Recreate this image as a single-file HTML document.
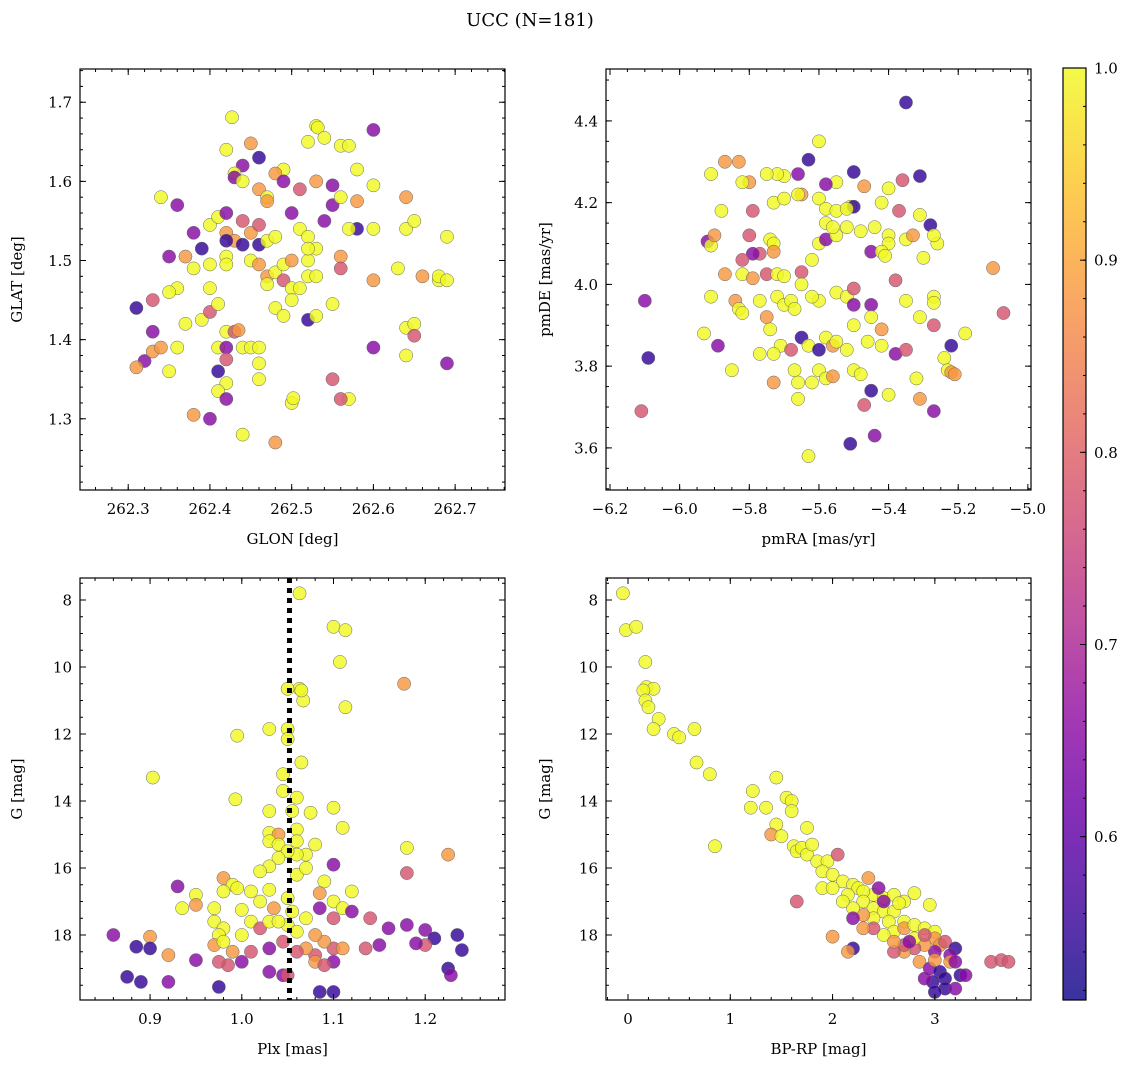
<!DOCTYPE html>
<html><head><meta charset="utf-8"><style>
body{margin:0;background:#fff;}
svg{display:block;font-family:"DejaVu Serif","Liberation Serif",serif;}
</style></head><body>
<svg id="fig" width="1136" height="1068" viewBox="0 0 1136 1068">
<text x="530" y="26" font-size="18" text-anchor="middle">UCC (N=181)</text>
</svg>
<script>
const Y=1.0,O=0.88,K=0.78,P=0.65,B=0.55;
const skyPoints=[[262.427,1.681,Y],[262.53,1.67,Y],[262.532,1.668,Y],[262.6,1.665,P],[262.54,1.655,Y],[262.52,1.65,Y],[262.56,1.645,Y],[262.57,1.645,Y],[262.42,1.64,Y],[262.45,1.648,O],[262.46,1.63,B],[262.44,1.62,P],[262.43,1.61,Y],[262.43,1.605,P],[262.49,1.615,Y],[262.48,1.61,O],[262.49,1.60,P],[262.44,1.60,Y],[262.46,1.59,O],[262.47,1.58,Y],[262.47,1.575,O],[262.53,1.60,O],[262.51,1.59,K],[262.55,1.595,P],[262.58,1.615,Y],[262.6,1.595,Y],[262.58,1.575,O],[262.34,1.58,Y],[262.36,1.57,P],[262.38,1.535,P],[262.39,1.515,B],[262.4,1.545,Y],[262.41,1.555,Y],[262.42,1.56,P],[262.44,1.55,K],[262.42,1.535,O],[262.43,1.525,O],[262.42,1.525,B],[262.44,1.52,B],[262.45,1.535,O],[262.46,1.545,K],[262.46,1.52,B],[262.47,1.525,Y],[262.48,1.53,Y],[262.5,1.56,P],[262.51,1.54,Y],[262.52,1.53,Y],[262.54,1.55,P],[262.55,1.57,P],[262.56,1.58,Y],[262.58,1.54,B],[262.57,1.54,Y],[262.6,1.54,Y],[262.64,1.58,O],[262.64,1.54,Y],[262.65,1.55,Y],[262.63,1.49,Y],[262.66,1.48,O],[262.68,1.475,Y],[262.68,1.48,Y],[262.69,1.53,Y],[262.69,1.475,Y],[262.42,1.505,Y],[262.42,1.495,Y],[262.40,1.495,Y],[262.38,1.49,Y],[262.35,1.505,P],[262.37,1.505,O],[262.45,1.50,Y],[262.46,1.495,O],[262.47,1.48,O],[262.47,1.47,Y],[262.48,1.485,Y],[262.49,1.475,K],[262.49,1.495,Y],[262.5,1.50,O],[262.5,1.465,Y],[262.51,1.465,Y],[262.52,1.48,Y],[262.52,1.5,Y],[262.53,1.515,Y],[262.53,1.48,Y],[262.52,1.515,Y],[262.56,1.505,O],[262.56,1.49,K],[262.36,1.465,Y],[262.35,1.46,Y],[262.33,1.45,K],[262.31,1.44,B],[262.33,1.41,P],[262.32,1.373,P],[262.33,1.385,O],[262.34,1.39,O],[262.35,1.36,Y],[262.31,1.365,O],[262.36,1.39,Y],[262.37,1.42,Y],[262.39,1.425,Y],[262.40,1.435,K],[262.4,1.465,Y],[262.41,1.445,Y],[262.42,1.41,Y],[262.43,1.41,K],[262.41,1.39,Y],[262.42,1.39,P],[262.42,1.375,K],[262.44,1.39,Y],[262.45,1.39,Y],[262.435,1.412,O],[262.46,1.39,Y],[262.46,1.37,Y],[262.46,1.35,Y],[262.41,1.36,B],[262.42,1.345,Y],[262.41,1.335,Y],[262.42,1.325,P],[262.38,1.305,O],[262.40,1.30,P],[262.44,1.28,Y],[262.48,1.27,O],[262.48,1.44,Y],[262.49,1.43,Y],[262.5,1.45,Y],[262.52,1.425,B],[262.53,1.43,Y],[262.55,1.445,Y],[262.55,1.35,K],[262.57,1.325,Y],[262.5,1.32,Y],[262.502,1.326,Y],[262.56,1.325,K],[262.6,1.39,P],[262.64,1.38,Y],[262.64,1.415,Y],[262.65,1.42,Y],[262.65,1.405,K],[262.69,1.37,P],[262.6,1.475,O]];
const pmPoints=[[-5.35,4.445,B],[-5.63,4.305,B],[-5.6,4.35,Y],[-5.87,4.30,O],[-5.83,4.30,O],[-5.66,4.27,P],[-5.70,4.265,Y],[-5.72,4.27,Y],[-5.75,4.27,Y],[-5.91,4.27,Y],[-5.5,4.275,B],[-5.31,4.265,B],[-5.36,4.255,K],[-5.80,4.25,O],[-5.82,4.25,Y],[-5.55,4.25,Y],[-5.58,4.245,P],[-5.47,4.24,O],[-5.4,4.235,Y],[-5.88,4.18,Y],[-5.79,4.18,K],[-5.73,4.2,Y],[-5.7,4.21,Y],[-5.65,4.22,O],[-5.66,4.22,Y],[-5.6,4.21,Y],[-5.58,4.185,Y],[-5.51,4.19,Y],[-5.5,4.19,B],[-5.42,4.2,Y],[-5.37,4.18,K],[-5.31,4.17,Y],[-5.28,4.145,B],[-5.55,4.18,Y],[-5.52,4.185,Y],[-5.92,4.105,P],[-5.91,4.095,Y],[-5.9,4.12,O],[-5.8,4.12,K],[-5.74,4.11,Y],[-5.73,4.1,Y],[-5.73,4.08,O],[-5.77,4.075,K],[-5.79,4.075,P],[-5.82,4.06,K],[-5.87,4.025,O],[-5.82,4.025,Y],[-5.79,4.015,O],[-5.75,4.025,K],[-5.72,4.025,Y],[-5.7,4.02,Y],[-5.65,4.03,K],[-5.65,4.0,Y],[-5.62,4.06,Y],[-5.6,4.1,Y],[-5.58,4.11,P],[-5.55,4.12,Y],[-5.58,4.15,Y],[-5.56,4.14,Y],[-5.52,4.14,Y],[-5.48,4.13,Y],[-5.44,4.14,Y],[-5.4,4.12,Y],[-5.4,4.1,Y],[-5.45,4.08,P],[-5.42,4.08,Y],[-5.41,4.07,Y],[-5.35,4.11,Y],[-5.33,4.12,O],[-5.26,4.1,Y],[-5.27,4.12,Y],[-5.3,4.065,Y],[-5.91,3.97,Y],[-5.84,3.96,O],[-5.83,3.94,Y],[-5.77,3.96,Y],[-5.72,3.97,Y],[-5.7,3.95,Y],[-5.68,3.96,Y],[-5.67,3.94,Y],[-5.6,3.96,Y],[-5.55,3.98,Y],[-5.52,3.97,Y],[-5.5,3.95,P],[-5.5,3.99,K],[-5.45,3.95,P],[-5.45,3.92,Y],[-5.42,3.89,O],[-5.35,3.96,Y],[-5.38,4.01,K],[-5.27,3.97,Y],[-5.27,3.955,Y],[-5.31,3.92,Y],[-5.27,3.9,K],[-5.22,3.85,B],[-5.18,3.88,Y],[-5.1,4.04,O],[-5.07,3.93,K],[-5.93,3.88,Y],[-5.89,3.85,P],[-5.82,3.93,Y],[-5.75,3.92,O],[-5.74,3.89,Y],[-5.71,3.85,Y],[-5.73,3.83,Y],[-5.68,3.84,K],[-5.65,3.87,B],[-5.63,3.85,Y],[-5.6,3.84,B],[-5.58,3.87,Y],[-5.56,3.85,O],[-5.55,3.86,Y],[-5.52,3.84,Y],[-5.5,3.9,Y],[-5.46,3.86,Y],[-5.42,3.85,Y],[-5.38,3.83,P],[-5.32,3.77,Y],[-5.31,3.72,O],[-5.24,3.82,Y],[-5.23,3.79,Y],[-5.22,3.785,O],[-5.21,3.78,O],[-5.27,3.69,P],[-5.35,3.84,K],[-5.85,3.79,Y],[-5.77,3.83,Y],[-5.73,3.76,O],[-5.67,3.79,Y],[-5.66,3.76,Y],[-5.62,3.76,Y],[-5.6,3.79,Y],[-5.58,3.77,Y],[-5.56,3.775,O],[-5.5,3.79,Y],[-5.48,3.78,Y],[-5.47,3.705,K],[-5.45,3.74,B],[-5.4,3.73,Y],[-5.44,3.63,P],[-5.51,3.61,B],[-5.66,3.72,Y],[-5.63,3.58,Y],[-5.62,3.97,Y],[-6.1,3.96,P],[-6.09,3.82,B],[-6.11,3.69,K]];
const plxPoints=[[1.063,7.8,Y],[1.1,8.8,Y],[1.113,8.9,Y],[1.107,9.85,Y],[1.063,10.65,Y],[1.05,10.65,Y],[1.067,11.0,Y],[1.065,10.7,Y],[1.177,10.5,O],[1.113,11.2,Y],[1.03,11.85,Y],[1.05,11.85,Y],[0.995,12.05,Y],[1.05,12.15,Y],[0.903,13.3,Y],[1.045,13.2,Y],[1.045,13.7,Y],[1.06,13.9,Y],[1.065,12.85,Y],[0.993,13.95,Y],[1.1,14.2,Y],[1.11,14.8,Y],[1.03,14.3,Y],[1.055,14.3,Y],[1.075,14.35,Y],[1.03,14.95,Y],[1.06,14.85,Y],[1.04,15.0,O],[1.03,15.2,Y],[1.04,15.3,Y],[1.06,15.2,Y],[1.08,15.3,Y],[1.07,15.6,Y],[1.06,15.6,Y],[1.05,15.5,Y],[1.04,15.7,Y],[1.18,15.4,Y],[1.225,15.6,O],[1.18,16.15,K],[1.1,15.9,P],[1.03,15.95,Y],[1.02,16.1,Y],[1.06,16.2,Y],[1.07,16.0,Y],[1.09,16.4,Y],[1.085,16.75,O],[1.1,17.0,Y],[1.12,16.7,Y],[1.11,17.2,Y],[0.98,16.3,O],[0.99,16.5,Y],[0.995,16.6,Y],[0.98,16.7,Y],[0.95,16.8,Y],[0.95,17.1,O],[0.935,17.2,Y],[0.93,16.55,P],[1.01,16.7,Y],[1.03,16.65,Y],[1.02,17.0,Y],[1.035,17.2,O],[1.05,16.9,Y],[1.055,17.3,Y],[1.0,17.25,Y],[0.97,17.2,Y],[0.97,17.6,Y],[0.98,17.8,Y],[0.975,18.0,Y],[0.97,18.3,O],[0.98,18.2,Y],[1.01,17.6,Y],[1.02,17.8,K],[1.03,17.6,Y],[1.05,17.7,Y],[1.07,17.5,Y],[1.085,17.2,P],[1.1,17.5,K],[1.12,17.3,P],[1.14,17.5,K],[1.16,17.8,P],[1.18,17.7,P],[1.2,17.85,P],[1.21,18.1,B],[1.2,18.3,K],[1.235,18.0,B],[1.24,18.45,B],[1.225,19.0,B],[1.228,19.2,P],[1.19,18.25,P],[1.15,18.3,P],[1.135,18.4,K],[1.1,18.4,K],[1.08,18.6,K],[1.07,18.4,O],[1.06,18.5,K],[1.045,18.2,K],[1.03,18.4,P],[1.01,18.5,K],[1.0,18.8,P],[0.985,18.9,K],[0.975,18.8,K],[0.95,18.75,P],[0.92,18.6,O],[0.9,18.05,O],[0.86,18.0,P],[0.885,18.35,B],[0.9,18.4,B],[0.875,19.25,B],[0.89,19.4,B],[0.92,19.4,P],[0.975,19.55,B],[1.03,19.1,P],[1.045,19.2,P],[1.05,19.2,K],[1.1,18.8,P],[1.1,19.7,B],[1.085,19.7,B],[1.08,18.8,O],[1.09,18.9,K],[1.11,18.4,O],[1.09,18.2,O],[1.08,18.0,O],[1.06,17.9,Y],[1.04,17.6,Y],[1.0,18.0,Y],[0.99,18.5,O]];
const cmdPoints=[[-0.05,7.8,Y],[-0.02,8.9,Y],[0.08,8.8,Y],[0.17,9.85,Y],[0.18,10.6,Y],[0.25,10.65,Y],[0.15,10.7,Y],[0.17,11.0,Y],[0.2,11.2,Y],[0.3,11.55,Y],[0.25,11.85,Y],[0.45,12.0,Y],[0.5,12.1,Y],[0.65,11.85,Y],[0.67,12.85,Y],[0.8,13.2,Y],[0.85,15.35,Y],[1.45,13.3,Y],[1.22,13.7,Y],[1.55,13.9,Y],[1.6,14.0,Y],[1.2,14.2,Y],[1.35,14.2,Y],[1.45,14.7,Y],[1.6,14.3,Y],[1.75,14.8,Y],[1.4,15.0,O],[1.5,15.05,Y],[1.62,15.35,Y],[1.65,15.5,Y],[1.7,15.4,Y],[1.75,15.6,Y],[1.8,15.3,Y],[1.85,15.8,Y],[1.95,15.8,Y],[2.05,15.6,K],[1.9,16.1,Y],[2.0,16.2,Y],[2.1,16.4,Y],[1.9,16.6,Y],[2.0,16.6,Y],[2.2,16.5,Y],[2.25,16.6,Y],[2.35,16.3,O],[2.4,16.8,Y],[2.3,16.7,Y],[2.15,16.8,Y],[2.3,17.0,Y],[2.5,16.9,Y],[2.6,16.8,Y],[2.7,17.0,Y],[2.8,16.75,Y],[2.4,17.2,Y],[2.5,17.3,Y],[2.6,17.3,Y],[2.7,17.6,Y],[2.55,17.6,Y],[2.4,17.5,Y],[2.3,17.4,O],[2.2,17.2,Y],[2.1,17.0,Y],[2.6,17.9,Y],[2.7,17.8,O],[2.8,17.7,Y],[2.9,17.8,Y],[3.0,17.9,Y],[3.0,18.1,O],[3.05,18.3,O],[3.1,18.2,K],[3.2,18.4,B],[3.15,18.6,P],[3.0,18.5,P],[2.9,18.3,O],[2.8,18.4,K],[2.7,18.5,O],[2.6,18.5,K],[2.85,18.8,O],[2.95,19.0,P],[3.05,19.1,B],[3.1,19.3,B],[2.98,19.4,B],[3.1,19.6,B],[3.0,19.7,B],[3.25,19.2,B],[3.2,19.6,P],[2.9,19.3,P],[3.15,18.8,O],[3.3,19.2,P],[3.55,18.8,K],[3.65,18.75,K],[3.72,18.8,K],[2.2,18.4,B],[2.15,18.5,O],[2.0,18.05,O],[1.65,17.0,K],[2.8,18.1,Y],[2.7,18.3,K],[2.5,18.0,Y],[2.4,17.8,K],[2.3,17.8,O],[2.2,17.5,P],[2.5,17.0,P],[2.45,16.6,P],[2.6,18.2,O],[3.0,18.75,O],[2.9,18.0,K],[2.75,18.2,P],[3.2,18.8,P],[2.95,17.1,Y],[2.65,17.05,Y]];
const plxRef=[1.052];
const cbarTicks=[0.6,0.7,0.8,0.9,1.0];
const cmin=0.515,cmax=1.0;

const NS="http://www.w3.org/2000/svg";
const svg=document.getElementById('fig');
function el(tag,attrs,parent){const e=document.createElementNS(NS,tag);for(const k in attrs)e.setAttribute(k,attrs[k]);(parent||svg).appendChild(e);return e;}
const stops=[[13,8,135],[65,4,157],[106,0,168],[143,13,164],[177,42,144],[204,71,120],[225,100,98],[242,132,75],[252,166,54],[252,206,37],[240,249,33]];
function plasma(v){let t=Math.max(0,Math.min(1,(v-cmin)/(cmax-cmin)))*10;const i=Math.min(9,Math.floor(t)),f=t-i;const a=stops[i],b=stops[i+1];return `rgb(${Math.round(a[0]+(b[0]-a[0])*f)},${Math.round(a[1]+(b[1]-a[1])*f)},${Math.round(a[2]+(b[2]-a[2])*f)})`;}
function fmt(v,d){return v.toFixed(d).replace('-','\u2212');}

function panel(cfg){
  const {x0,x1,y0,y1,xmin,xmax,ymin,ymax,inv,name}=cfg;
  const g=el('g',{});
  
  
  const sx=v=>x0+(v-xmin)/(xmax-xmin)*(x1-x0);
  const sy=inv?(v=>y0+(v-ymin)/(ymax-ymin)*(y1-y0)):(v=>y1-(v-ymin)/(ymax-ymin)*(y1-y0));
  const pts=el('g',{},g);
  
  
  cfg.data.forEach(d=>{
    const c=el('circle',{cx:sx(d[0]),cy:sy(d[1]),r:6.6,fill:plasma(d[2]),'fill-opacity':0.82,stroke:'#666','stroke-width':0.5},pts);
    
    
  });
  if(cfg.vline){cfg.vline.forEach(v=>{const l=el('line',{x1:sx(v),x2:sx(v),y1:y0,y2:y1,stroke:'#000','stroke-width':5,'stroke-dasharray':'5,5'},g);
    
    });}
  const fr=el('rect',{x:x0,y:y0,width:x1-x0,height:y1-y0,fill:'none',stroke:'#000','stroke-width':1.2},g);
  
  
  const tk=el('g',{stroke:'#000','stroke-width':1},g);
  const eps=1e-9;
  for(let v=Math.ceil(xmin/cfg.xminor-eps)*cfg.xminor;v<=xmax+eps;v+=cfg.xminor){const x=sx(v);el('line',{x1:x,x2:x,y1:y1,y2:y1-3},tk);el('line',{x1:x,x2:x,y1:y0,y2:y0+3},tk);}
  for(let v=Math.ceil(ymin/cfg.yminor-eps)*cfg.yminor;v<=ymax+eps;v+=cfg.yminor){const y=sy(v);el('line',{x1:x0,x2:x0+3,y1:y,y2:y},tk);el('line',{x1:x1,x2:x1-3,y1:y,y2:y},tk);}
  cfg.xticks.forEach(v=>{const x=sx(v);el('line',{x1:x,x2:x,y1:y1,y2:y1-6},tk);el('line',{x1:x,x2:x,y1:y0,y2:y0+6},tk);
    const t=el('text',{x:x,y:y1+24,'font-size':15,'text-anchor':'middle'},g);t.textContent=fmt(v,cfg.xd);
    });
  cfg.yticks.forEach(v=>{const y=sy(v);el('line',{x1:x0,x2:x0+6,y1:y,y2:y},tk);el('line',{x1:x1,x2:x1-6,y1:y,y2:y},tk);
    const t=el('text',{x:x0-8,y:y+5.5,'font-size':15,'text-anchor':'end'},g);t.textContent=fmt(v,cfg.yd);
    });
  const xl=el('text',{x:(x0+x1)/2,y:y1+54,'font-size':15,'text-anchor':'middle'},g);xl.textContent=cfg.xlabel;
  
  const yx=cfg.ylx,yc=(y0+y1)/2;
  const yl=el('text',{x:yx,y:yc,'font-size':15,'text-anchor':'middle',transform:`rotate(-90 ${yx} ${yc})`},g);yl.textContent=cfg.ylabel;
  
}
const rng=a=>{const r=[];for(let i=0;i<a[2];i++)r.push(+(a[0]+i*a[1]).toFixed(4));return r;};
panel({name:'sky',x0:80,x1:505,y0:69,y1:490,xmin:262.241,xmax:262.761,ymin:1.210,ymax:1.742,xticks:rng([262.3,0.1,5]),yticks:rng([1.3,0.1,5]),xminor:0.02,yminor:0.02,xd:1,yd:1,data:skyPoints,xlabel:'GLON [deg]',ylabel:'GLAT [deg]',ylx:22});
panel({name:'proper-motion',x0:606,x1:1031,y0:69,y1:490,xmin:-6.2115,xmax:-4.991,ymin:3.497,ymax:4.527,xticks:rng([-6.2,0.2,7]),yticks:rng([3.6,0.2,5]),xminor:0.05,yminor:0.05,xd:1,yd:1,data:pmPoints,xlabel:'pmRA [mas/yr]',ylabel:'pmDE [mas/yr]',ylx:550});
panel({name:'parallax',x0:80,x1:505,y0:578,y1:1000,xmin:0.8236,xmax:1.287,ymin:7.343,ymax:19.94,inv:true,xticks:rng([0.9,0.1,4]),yticks:rng([8,2,6]),xminor:0.02,yminor:0.5,xd:1,yd:0,data:plxPoints,vline:plxRef,xlabel:'Plx [mas]',ylabel:'G [mag]',ylx:22});
panel({name:'cmd',x0:606,x1:1031,y0:578,y1:1000,xmin:-0.215,xmax:3.94,ymin:7.343,ymax:19.94,inv:true,xticks:rng([0,1,4]),yticks:rng([8,2,6]),xminor:0.2,yminor:0.5,xd:0,yd:0,data:cmdPoints,xlabel:'BP-RP [mag]',ylabel:'G [mag]',ylx:550});

const cb=el('g',{});


const defs=el('defs',{},cb);
const grad=el('linearGradient',{id:'cbg',x1:0,y1:1,x2:0,y2:0},defs);
for(let i=0;i<=20;i++){const v=cmin+(cmax-cmin)*i/20;el('stop',{offset:i/20,'stop-color':plasma(v),'stop-opacity':0.82},grad);}
const cx0=1063,cx1=1086,cy0=68,cy1=1000;
const cby=v=>cy1-(v-cmin)/(cmax-cmin)*(cy1-cy0);
el('rect',{x:cx0,y:cy0,width:cx1-cx0,height:cy1-cy0,fill:'url(#cbg)',stroke:'#000','stroke-width':1.2},cb);
for(let v=0.52;v<=1.0001;v+=0.02){const y=cby(v);el('line',{x1:cx1,x2:cx1-3,y1:y,y2:y,stroke:'#000'},cb);}
cbarTicks.forEach(v=>{const y=cby(v);el('line',{x1:cx1,x2:cx1-6,y1:y,y2:y,stroke:'#000'},cb);
  const t=el('text',{x:cx1+8,y:y+5.5,'font-size':15},cb);t.textContent=v.toFixed(1);
  });
</script>
</body></html>
